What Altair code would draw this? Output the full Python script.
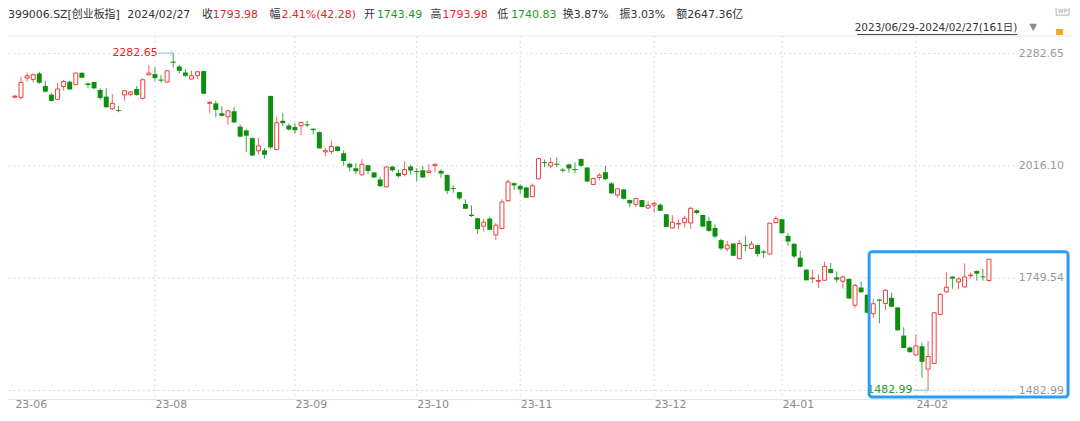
import json
import altair as alt
import pandas as pd

# ---- data ----
opens = [2178.4, 2177.9, 2223.7, 2220.4, 2234.5, 2204.8, 2184.3, 2173.2, 2203.4, 2214.9,
         2207.9, 2236.2, 2210.9, 2214.2, 2195.4, 2179.6, 2150.5, 2147.3, 2183.6, 2185.0,
         2197.7, 2175.5, 2231.5, 2233.1, 2219.6, 2214.2, 2262.1, 2251.0, 2236.9, 2221.3,
         2229.1, 2240.2, 2163.7, 2163.7, 2140.2, 2131.7, 2144.9, 2108.5, 2099.4, 2081.2,
         2051.0, 2052.2, 2181.2, 2054.4, 2122.3, 2111.2, 2107.4, 2110.5, 2113.5, 2103.4,
         2095.4, 2048.5, 2049.5, 2061.3, 2045.1, 2020.4, 2009.7, 1994.0, 2016.8, 1999.6,
         1983.1, 1965.6, 2013.7, 1998.6, 1994.9, 2013.7, 2002.6, 2005.0, 1999.6, 2016.1,
         2003.4, 1993.9, 1962.6, 1953.1, 1924.8, 1899.6, 1891.1, 1872.2, 1890.2, 1851.7,
         1866.6, 1932.6, 1974.4, 1968.0, 1964.2, 1942.1, 1984.5, 2023.9, 2015.2, 2019.9,
         2006.2, 2018.7, 2007.4, 2031.7, 2011.4, 1971.3, 1987.8, 2000.3, 1973.7, 1946.1,
         1959.5, 1934.3, 1924.1, 1934.3, 1915.4, 1922.5, 1923.2, 1900.5, 1868.2, 1877.6,
         1880.7, 1880.0, 1910.0, 1898.9, 1884.7, 1868.2, 1839.2, 1818.7, 1831.2, 1795.1,
         1827.4, 1819.4, 1827.4, 1812.3, 1806.2, 1880.7, 1888.7, 1849.4, 1830.5, 1797.5,
         1769.2, 1747.9, 1742.0, 1744.0, 1770.8, 1750.9, 1741.6, 1747.2, 1684.9, 1726.7,
         1709.5, 1664.7, 1697.7, 1688.9, 1702.4, 1679.5, 1612.8, 1584.5, 1567.0, 1587.5,
         1533.3, 1546.7, 1663.0, 1716.6, 1752.6, 1740.1, 1728.3, 1755.0, 1766.1, 1752.5,
         1743.49]
highs = [2184.3, 2226.7, 2236.9, 2234.5, 2238.5, 2217.3, 2187.8, 2211.9, 2218.9, 2217.3,
         2236.9, 2236.9, 2213.3, 2214.9, 2199.2, 2199.2, 2185.9, 2157.6, 2194.2, 2193.0,
         2204.8, 2222.7, 2255.0, 2248.7, 2230.8, 2241.6, 2282.65, 2255.0, 2244.9, 2240.9,
         2240.9, 2240.9, 2168.4, 2170.1, 2156.7, 2148.9, 2156.0, 2113.5, 2103.4, 2082.9,
         2082.2, 2057.6, 2181.9, 2132.4, 2141.1, 2116.0, 2116.6, 2120.0, 2122.3, 2104.1,
         2097.0, 2057.6, 2075.1, 2062.7, 2052.2, 2023.4, 2021.8, 2031.1, 2017.5, 2000.3,
         1989.2, 2014.4, 2014.4, 2006.7, 2026.9, 2018.0, 2009.7, 2015.1, 2020.4, 2020.8,
         2006.7, 1994.9, 1969.6, 1953.8, 1935.9, 1921.8, 1892.5, 1889.4, 1894.9, 1879.3,
         1935.9, 1983.1, 1976.0, 1971.3, 1965.6, 1973.7, 2033.3, 2030.3, 2035.0, 2035.0,
         2010.5, 2020.8, 2023.9, 2032.6, 2012.1, 1987.8, 1997.9, 2015.1, 1976.7, 1963.3,
         1960.2, 1935.9, 1939.0, 1935.0, 1931.9, 1930.3, 1926.5, 1901.2, 1898.2, 1888.7,
         1897.2, 1918.4, 1912.3, 1899.6, 1894.2, 1876.9, 1843.0, 1837.5, 1832.1, 1839.9,
         1849.4, 1837.5, 1828.8, 1816.3, 1880.7, 1896.5, 1890.2, 1855.7, 1832.1, 1814.0,
         1769.9, 1769.2, 1757.4, 1788.7, 1784.9, 1765.1, 1755.7, 1747.9, 1736.1, 1741.2,
         1710.2, 1700.0, 1700.0, 1722.7, 1714.2, 1680.2, 1632.4, 1586.8, 1615.9, 1596.2,
         1600.0, 1667.7, 1712.8, 1763.7, 1753.3, 1751.9, 1784.0, 1762.8, 1766.8, 1771.5,
         1793.98]
lows = [2176.0, 2171.7, 2215.6, 2213.3, 2209.5, 2189.7, 2168.4, 2172.5, 2193.7, 2195.4,
        2207.2, 2223.7, 2199.2, 2196.8, 2171.7, 2153.7, 2148.9, 2142.6, 2170.1, 2180.3,
        2181.9, 2172.5, 2230.8, 2216.6, 2212.6, 2213.3, 2248.7, 2234.5, 2226.7, 2220.4,
        2221.3, 2185.9, 2140.2, 2130.7, 2132.4, 2112.8, 2117.6, 2083.6, 2047.8, 2038.9,
        2041.6, 2032.5, 2056.2, 2053.4, 2109.9, 2099.4, 2091.6, 2088.3, 2107.4, 2089.9,
        2056.2, 2037.8, 2042.8, 2049.8, 2016.1, 2002.6, 1996.3, 1993.2, 1995.5, 1986.9,
        1965.6, 1964.2, 2001.0, 1987.8, 1990.8, 1994.9, 1979.1, 1986.9, 1997.2, 2001.0,
        1986.9, 1948.4, 1951.5, 1934.3, 1913.0, 1894.2, 1854.1, 1859.5, 1862.8, 1839.9,
        1865.2, 1930.3, 1957.9, 1948.4, 1939.0, 1941.3, 1983.8, 2012.1, 2009.7, 2012.8,
        1999.6, 1999.6, 1997.9, 2012.8, 1976.7, 1970.3, 1981.4, 1981.4, 1948.4, 1939.7,
        1935.9, 1917.0, 1917.7, 1917.0, 1913.7, 1904.3, 1908.3, 1869.9, 1866.6, 1865.2,
        1868.9, 1865.9, 1900.5, 1870.6, 1858.8, 1843.9, 1814.7, 1812.3, 1801.5, 1794.4,
        1813.3, 1818.0, 1800.5, 1796.8, 1805.3, 1879.3, 1854.1, 1825.8, 1795.8, 1774.6,
        1743.2, 1737.8, 1725.9, 1743.2, 1759.7, 1739.2, 1724.4, 1700.0, 1678.8, 1714.9,
        1666.1, 1654.3, 1641.8, 1673.2, 1679.5, 1624.6, 1582.8, 1572.7, 1564.6, 1512.8,
        1482.99, 1545.8, 1661.3, 1714.9, 1723.6, 1723.6, 1726.7, 1747.9, 1743.2, 1743.2,
        1740.83]
closes = [2180.7, 2213.3, 2229.1, 2231.5, 2212.6, 2191.3, 2169.4, 2197.7, 2215.6, 2196.8,
          2235.5, 2224.4, 2207.2, 2199.2, 2176.5, 2154.4, 2163.7, 2145.9, 2193.7, 2190.6,
          2183.6, 2219.6, 2235.5, 2223.7, 2218.0, 2240.9, 2260.5, 2240.9, 2229.1, 2229.1,
          2238.5, 2186.6, 2166.1, 2148.2, 2134.0, 2145.9, 2118.3, 2084.5, 2086.9, 2039.7,
          2062.8, 2041.6, 2059.3, 2117.6, 2116.6, 2101.7, 2100.1, 2118.3, 2111.9, 2100.1,
          2056.9, 2051.6, 2061.3, 2050.6, 2026.9, 2011.6, 2002.6, 2019.2, 2003.3, 1987.8,
          1967.3, 2012.8, 2005.0, 1990.8, 2006.7, 2004.3, 2001.0, 1987.8, 2003.3, 2019.2,
          1997.2, 1956.2, 1960.9, 1938.3, 1913.7, 1896.5, 1865.2, 1881.7, 1863.5, 1874.6,
          1929.5, 1977.4, 1969.0, 1959.5, 1939.7, 1968.0, 2032.6, 2022.3, 2023.2, 2018.5,
          2004.6, 2009.3, 2005.7, 2015.6, 1978.4, 1985.4, 1993.2, 1983.8, 1950.1, 1960.9,
          1937.3, 1926.5, 1938.3, 1917.7, 1921.8, 1926.5, 1909.0, 1870.6, 1881.7, 1878.8,
          1891.1, 1914.7, 1903.6, 1871.3, 1861.1, 1847.7, 1819.4, 1827.4, 1802.2, 1831.2,
          1825.8, 1829.8, 1806.2, 1809.3, 1879.3, 1890.2, 1855.7, 1835.9, 1800.5, 1776.2,
          1744.0, 1749.1, 1743.2, 1776.9, 1761.4, 1745.6, 1751.9, 1700.8, 1732.1, 1715.6,
          1667.0, 1688.3, 1696.0, 1720.3, 1681.2, 1625.3, 1583.5, 1573.4, 1588.2, 1550.5,
          1563.3, 1667.0, 1710.5, 1727.4, 1747.9, 1747.2, 1751.9, 1756.2, 1759.7, 1751.7,
          1793.98]

month_starts = [0, 23, 46, 66, 83, 105, 126, 148]
month_labels = ["23-06", "23-08", "23-09", "23-10", "23-11", "23-12", "24-01", "24-02"]
y_ticks = [1482.99, 1749.54, 2016.10, 2282.65]

extreme_idx = [26, 150]
extreme_val = [2282.65, 1482.99]
extreme_lbl = ["2282.65", "1482.99"]

header_items = [
    ("399006.SZ[创业板指]", "#333333"), ("2024/02/27", "#333333"),
    ("收", "#333333"), ("1793.98", "#e3262b"),
    ("幅", "#333333"), ("2.41%(42.28)", "#e3262b"),
    ("开", "#333333"), ("1743.49", "#1f9a1f"),
    ("高", "#333333"), ("1793.98", "#e3262b"),
    ("低", "#333333"), ("1740.83", "#1f9a1f"),
    ("换", "#333333"), ("3.87%", "#333333"),
    ("振", "#333333"), ("3.03%", "#333333"),
    ("额", "#333333"), ("2647.36亿", "#333333"),
]
header_x = [0, 120, 195, 206, 263, 275, 358, 371, 425, 437, 492, 506, 558, 569, 615, 626, 672, 683]
range_text = "2023/06/29-2024/02/27(161日)"

# ---- styling ----
RED = "#f03b3b"
GREEN = "#0c8f0c"
FONT = "DejaVu Sans, Noto Sans CJK SC, sans-serif"
W, H = 1012, 365

n = len(opens)
df = pd.DataFrame({"i": list(range(n)), "open": opens, "high": highs,
                   "low": lows, "close": closes})
df["up"] = df["close"] >= df["open"]
df["doji"] = (df["close"] - df["open"]).abs() < 3
df["mid"] = (df["open"] + df["close"]) / 2

xscale = alt.Scale(domain=[-0.32, 163.35], nice=False, zero=False)
yscale = alt.Scale(domain=[1462.55, 2323.45], nice=False, zero=False)

label_expr = "{}[indexof({}, datum.value)]".format(json.dumps(month_labels), json.dumps(month_starts))
xaxis = alt.Axis(values=month_starts, labelExpr=label_expr, grid=False, ticks=False,
                 domain=True, domainColor="#e2e2e2", labelColor="#8a8a8a", labelFont=FONT,
                 labelFontSize=11, labelAlign="left", labelFlush=False, labelPadding=6,
                 labelBaseline="middle", title=None)
yaxis = alt.Axis(values=y_ticks, format=".2f", orient="right", grid=True, gridDash=[2, 3],
                 gridColor="#d9d9d9", ticks=False, domain=False, labelColor="#999999",
                 labelFont=FONT, labelFontSize=11, labelPadding=4, title=None)


def X(field):
    return alt.X(field, type="quantitative", scale=xscale, axis=xaxis)


def Y(field):
    return alt.Y(field, type="quantitative", scale=yscale, axis=yaxis)


base = alt.Chart(df)

vgrid = alt.Chart(pd.DataFrame({"m": month_starts[1:]})).mark_rule(
    color="#d9d9d9", strokeDash=[2, 3], strokeWidth=1).encode(x=X("m"))

wicks = base.mark_rule(strokeWidth=1, opacity=0.8).encode(
    x=X("i"), y=Y("low"), y2="high",
    color=alt.condition("datum.up", alt.value(RED), alt.value(GREEN)))

down = base.transform_filter("!datum.up").mark_bar(size=5, color=GREEN).encode(
    x=X("i"), y=Y("open"), y2="close")

up = base.transform_filter("datum.up").mark_bar(
    size=4, fill="white", stroke=RED, strokeWidth=1).encode(
    x=X("i"), y=Y("open"), y2="close")

doji = base.transform_filter("datum.doji").mark_tick(
    orient="horizontal", size=5, thickness=1).encode(
    x=X("i"), y=Y("mid"),
    color=alt.condition("datum.up", alt.value(RED), alt.value(GREEN)))

ARROW = 2.4  # arrow length in candle units
ann = pd.DataFrame({"i": extreme_idx, "p": extreme_val, "lbl": extreme_lbl,
                    "hi": [True, False]})
ann["i0"] = ann["i"] - ARROW
ann_base = alt.Chart(ann)
ann_line = ann_base.mark_rule(color="#8cc3e3", strokeWidth=1).encode(
    x=X("i0"), x2="i", y=Y("p"))
ann_head = ann_base.mark_point(shape="M-1,-1L0,0L-1,1", size=30, filled=False,
                               strokeWidth=1, color="#8cc3e3").encode(x=X("i"), y=Y("p"))
ann_text = ann_base.mark_text(align="right", baseline="middle", dx=-1, font=FONT,
                              fontSize=11).encode(
    x=X("i0"), y=Y("p"), text="lbl:N",
    color=alt.condition("datum.hi", alt.value("#e3262b"), alt.value("#2a962a")))

one = pd.DataFrame({"a": [0]})
layers = [vgrid, wicks, down, up, doji, ann_line, ann_head, ann_text]

# top separator line
layers.append(alt.Chart(one).mark_rule(color="#e6e6e6").encode(
    x=alt.value(0), x2=alt.value(1070), y=alt.value(0)))

# header texts
for (txt, col), hx in zip(header_items, header_x):
    layers.append(alt.Chart(pd.DataFrame({"t": [txt]})).mark_text(
        align="left", baseline="middle", font=FONT, fontSize=11, color=col).encode(
        text="t:N", x=alt.value(hx), y=alt.value(-21)))

# date range selector
layers.append(alt.Chart(pd.DataFrame({"t": [range_text]})).mark_text(
    align="right", baseline="middle", font=FONT, fontSize=10.5, color="#333333").encode(
    text="t:N", x=alt.value(1015), y=alt.value(-8)))
layers.append(alt.Chart(one).mark_rule(color="#444444").encode(
    x=alt.value(854), x2=alt.value(1015), y=alt.value(-1.5)))
layers.append(alt.Chart(pd.DataFrame({"t": ["▼"]})).mark_text(
    align="center", baseline="middle", fontSize=13, color="#8a8a8a").encode(
    text="t:N", x=alt.value(1031), y=alt.value(-9)))
layers.append(alt.Chart(one).mark_rect(color="#f5a623").encode(
    x=alt.value(1054), x2=alt.value(1061), y=alt.value(-7), y2=alt.value(-1)))
layers.append(alt.Chart(one).mark_rect(fillOpacity=0, stroke="#b0b0b0", strokeWidth=1).encode(
    x=alt.value(1054), x2=alt.value(1067), y=alt.value(-30), y2=alt.value(-21)))
layers.append(alt.Chart(pd.DataFrame({"t": ["WP"]})).mark_text(
    align="center", baseline="middle", fontSize=6, color="#a0a0a0", font=FONT).encode(
    text="t:N", x=alt.value(1060.5), y=alt.value(-25.5)))

# highlight box
layers.append(alt.Chart(one).mark_rect(fillOpacity=0, stroke="#2a9df4", strokeWidth=3,
                                       cornerRadius=3).encode(
    x=alt.value(866), x2=alt.value(1066), y=alt.value(217), y2=alt.value(363)))

chart = alt.layer(*layers).properties(
    width=W, height=H,
    padding={"left": 0, "top": 27, "right": 58, "bottom": 13},
    autosize=alt.AutoSizeParams(type="none"),
    background="white",
).configure_view(stroke=None)

chart.save("out.html", embed_options={"renderer": "svg", "actions": False})
